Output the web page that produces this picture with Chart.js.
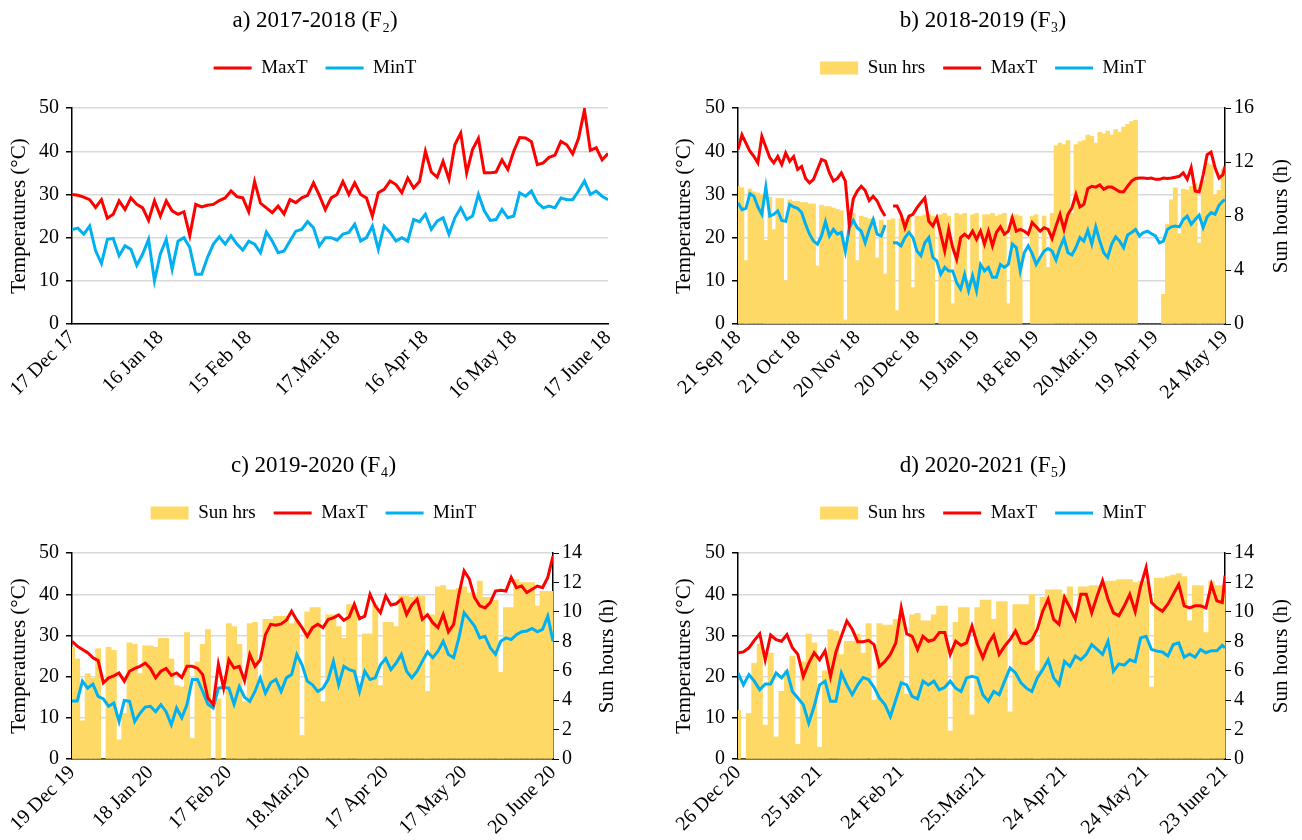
<!DOCTYPE html>
<html>

<head>
    <title>Temperature and sun hours</title>
    <script src="https://cdn.jsdelivr.net/npm/chart.js"></script>
    <style>
        body {
            margin: 0;
            background: #fff;
        }

        #wrap {
            position: relative;
            width: 1302px;
            height: 840px;
        }

        canvas {
            position: absolute;
        }

        #chartA { left: 0; top: 0; }
        #chartB { left: 651px; top: 0; }
        #chartC { left: 0; top: 445px; }
        #chartD { left: 651px; top: 445px; }
    </style>
</head>

<body>
    <div id="wrap">
        <canvas id="chartA" width="651" height="445"></canvas>
        <canvas id="chartB" width="651" height="445"></canvas>
        <canvas id="chartC" width="651" height="395"></canvas>
        <canvas id="chartD" width="651" height="395"></canvas>
    </div>

    <script>
        // values read every 2 days from the figure (day 0 = first tick)
        // a) 2017-2018
        const maxA = [
            30.0, 29.8, 29.4, 28.8, 27.0, 28.8, 24.5, 25.4, 28.5, 26.5,
            29.2, 27.7, 26.9, 24.0, 28.5, 25.0, 28.5, 26.2, 25.4, 26.0,
            20.5, 27.7, 27.1, 27.5, 27.7, 28.6, 29.2, 30.8, 29.5, 29.2,
            26.0, 33.0, 28.0, 26.9, 25.8, 27.3, 25.5, 28.8, 28.1, 29.2,
            29.8, 32.7, 29.8, 26.5, 29.2, 30.0, 33.0, 30.0, 32.7, 30.0,
            29.2, 25.0, 30.4, 31.2, 33.1, 32.3, 30.4, 33.8, 31.5, 33.0,
            40.0, 35.2, 34.0, 37.7, 33.5, 41.5, 44.2, 35.0, 40.4, 43.0,
            35.0, 35.0, 35.2, 38.0, 35.8, 40.0, 43.2, 43.1, 42.2, 36.9,
            37.3, 38.6, 39.1, 42.3, 41.5, 39.4, 43.0, 49.6, 40.2, 40.8,
            38.0, 39.5
        ];
        const minA = [
            21.9, 22.2, 20.8, 22.7, 17.0, 14.0, 19.6, 19.8, 15.8, 18.1,
            17.3, 13.6, 16.2, 19.6, 10.0, 16.2, 19.6, 12.7, 19.2, 20.0,
            17.7, 11.5, 11.5, 15.4, 18.5, 20.2, 18.5, 20.4, 18.5, 17.1,
            19.2, 18.5, 16.5, 21.3, 19.2, 16.5, 16.9, 19.2, 21.5, 21.9,
            23.7, 22.3, 18.1, 20.0, 20.0, 19.4, 20.8, 21.2, 23.1, 19.2,
            20.0, 22.7, 17.3, 22.7, 21.2, 19.2, 20.0, 19.2, 24.2, 23.7,
            25.4, 21.9, 23.8, 24.6, 20.8, 24.6, 26.9, 24.2, 25.0, 30.0,
            26.2, 24.0, 24.2, 26.5, 24.6, 25.0, 30.4, 29.6, 30.8, 28.1,
            26.9, 27.3, 26.9, 29.2, 28.8, 28.8, 30.8, 33.1, 30.0, 30.8,
            29.6, 28.8
        ];
        const tickDaysA = [0, 30, 60, 90, 120, 150, 182];
        const tickLabelsA = ['17 Dec 17', '16 Jan 18', '15 Feb 18', '17.Mar.18', '16 Apr 18', '16 May 18', '17 June 18'];

        // b) 2018-2019 (last value is day 245)
        const maxB = [
            40.4, 43.8, 41.9, 40.0, 38.8, 37.3, 43.5, 41.0, 38.5, 37.3,
            38.8, 36.9, 39.6, 37.7, 38.8, 35.8, 36.5, 33.7, 32.7, 33.5,
            35.8, 38.1, 37.7, 35.0, 33.1, 33.7, 35.0, 33.1, 23.0, 29.0,
            30.8, 31.9, 30.9, 28.6, 29.6, 28.5, 26.5, 25.0, null, 27.3,
            27.3, 25.4, 22.3, 25.0, 25.4, 26.9, 28.1, 29.2, 23.8, 22.7,
            24.6, 20.8, 16.9, 21.9, 17.7, 15.0, 20.0, 20.8, 20.0, 21.5,
            19.6, 21.5, 18.5, 21.5, 18.1, 21.2, 22.5, 20.8, 21.5, 24.6,
            21.5, 21.9, 21.5, 20.8, 23.5, 22.5, 21.5, 22.3, 21.9, 19.8,
            22.7, 25.4, 21.9, 25.4, 26.9, 30.0, 27.1, 27.7, 31.4, 31.9,
            31.7, 32.2, 31.2, 31.7, 31.7, 31.2, 30.6, 30.6, 31.9, 33.1,
            33.7, 33.8, 33.8, 33.7, 33.8, 33.5, 33.5, 33.8, 33.7, 33.8,
            34.0, 34.2, 35.0, 33.5, 36.2, 30.8, 30.6, 34.5, 39.2, 39.8,
            36.2, 33.8, 34.6, 36.5
        ];
        const minB = [
            28.1, 26.5, 26.8, 30.2, 29.6, 27.1, 25.4, 31.7, 25.0, 25.4,
            26.2, 24.0, 23.8, 27.7, 27.1, 26.8, 25.8, 23.1, 20.8, 19.2,
            18.5, 20.4, 23.7, 20.4, 21.9, 20.8, 21.2, 16.8, 22.3, 24.0,
            22.3, 21.5, 18.8, 21.9, 24.2, 20.8, 20.4, 22.9, null, 18.8,
            18.8, 18.1, 20.0, 21.2, 20.0, 16.9, 15.8, 18.8, 20.0, 15.4,
            14.6, 11.5, 13.1, 12.3, 12.3, 9.6, 8.1, 11.5, 7.7, 11.2,
            7.7, 13.8, 12.3, 13.1, 10.8, 10.8, 13.8, 13.1, 13.8, 18.5,
            17.7, 12.3, 16.5, 18.1, 16.3, 13.8, 15.4, 16.9, 17.5, 16.9,
            14.8, 17.7, 19.8, 16.5, 16.0, 17.7, 20.0, 19.2, 21.7, 18.5,
            22.5, 19.2, 16.5, 15.4, 18.5, 20.2, 19.2, 17.7, 20.6, 21.2,
            21.9, 20.4, 21.2, 21.5, 20.9, 20.4, 18.8, 19.2, 21.9, 22.5,
            22.7, 22.5, 24.2, 25.0, 23.1, 24.2, 25.2, 22.3, 24.8, 25.8,
            25.4, 27.5, 28.5, 28.8
        ];
        const sunB = [
            10.2, 10.1, 4.7, 10.0, 9.8, 9.7, 9.6, 6.2, 9.4, 7.0,
            9.3, 9.3, 3.2, 9.2, 9.1, 9.1, 9.0, 9.0, 8.9, 8.9,
            4.3, 8.8, 8.7, 8.7, 8.6, 8.5, 8.4, 0.3, 8.3, 8.2,
            4.7, 8.0, 7.9, 7.8, 7.8, 4.9, 7.7, 3.7, 7.7, 7.8,
            1.0, 7.8, 7.8, 7.9, 2.7, 8.0, 8.0, 8.1, 8.1, 8.0,
            0, 8.1, 8.2, 8.0, 1.5, 8.2, 8.1, 8.2, 3.2, 8.1,
            8.2, 4.0, 8.1, 8.1, 8.2, 8.0, 8.1, 8.2, 1.5, 8.0,
            8.1, 8.0, 0, 0, 8.0, 8.1, 4.8, 8.0, 4.2, 8.2,
            13.2, 13.4, 13.3, 13.6, 8.2, 13.3, 13.5, 13.6, 14.0, 13.9,
            13.4, 14.2, 14.1, 14.3, 14.0, 14.4, 14.2, 14.6, 14.8, 15.0,
            15.1, 0, 0, 0, 0, 0, 0, 2.2, 7.4, 9.2,
            10.1, 6.7, 10.0, 9.9, 10.2, 10.4, 6.0, 10.6, 11.9, 11.8,
            9.6, 9.9, 11.5
        ];
        const tickDaysB = [0, 30, 60, 90, 120, 150, 180, 210, 245];
        const tickLabelsB = ['21 Sep 18', '21 Oct 18', '20 Nov 18', '20 Dec 18', '19 Jan 19', '18 Feb 19', '20.Mar.19', '19 Apr 19', '24 May 19'];

        // c) 2019-2020
        const maxC = [
            28.6, 27.4, 26.6, 25.8, 24.6, 23.9, 18.5, 19.7, 20.2, 20.9,
            18.9, 21.3, 22.0, 22.5, 23.3, 22.0, 19.7, 21.3, 22.0, 20.3,
            20.9, 19.8, 22.5, 22.5, 22.0, 20.5, 14.8, 13.2, 23.0, 17.2,
            24.1, 22.1, 22.5, 19.0, 25.4, 22.5, 24.1, 30.2, 32.7, 32.5,
            32.8, 33.7, 35.9, 33.7, 31.9, 29.8, 31.9, 32.7, 31.9, 33.9,
            34.3, 35.0, 33.7, 34.5, 37.6, 34.1, 34.7, 40.0, 37.2, 35.5,
            39.6, 37.4, 37.7, 38.8, 35.1, 37.4, 38.8, 33.9, 35.0, 33.1,
            31.9, 35.1, 30.9, 32.7, 40.0, 45.7, 43.7, 39.2, 37.2, 36.7,
            38.0, 40.8, 41.0, 40.8, 44.1, 41.6, 42.0, 40.4, 41.2, 42.0,
            41.6, 44.1, 49.3
        ];
        const minC = [
            14.1, 14.1, 18.9, 17.2, 18.2, 15.2, 14.6, 12.8, 13.6, 9.1,
            14.2, 14.0, 9.1, 11.1, 12.6, 12.8, 11.5, 13.2, 11.5, 8.3,
            12.4, 10.0, 13.2, 19.3, 19.3, 16.4, 13.3, 12.4, 17.2, 17.4,
            17.2, 13.3, 17.6, 15.0, 14.0, 16.4, 19.7, 16.0, 18.5, 19.3,
            16.4, 19.7, 20.5, 25.4, 22.9, 18.9, 18.0, 16.4, 17.2, 19.3,
            23.7, 18.0, 22.5, 21.7, 21.3, 16.4, 21.3, 19.3, 19.7, 22.9,
            24.4, 21.7, 23.3, 25.4, 21.3, 19.7, 21.3, 23.7, 26.0, 24.6,
            26.2, 28.6, 25.4, 24.6, 29.4, 35.5, 33.9, 32.3, 29.4, 29.8,
            27.0, 25.4, 28.6, 29.4, 29.0, 30.2, 30.9, 31.1, 31.7, 30.9,
            31.5, 34.7, 28.6
        ];
        const sunC = [
            7.6, 6.8, 2.6, 5.8, 5.5, 7.5, 0, 7.6, 7.4, 1.3,
            3.1, 7.9, 7.8, 5.8, 7.7, 7.7, 7.6, 8.2, 8.2, 6.8,
            5.0, 4.9, 8.6, 1.4, 6.6, 7.8, 8.8, 0, 4.1, 0,
            9.2, 9.0, 7.8, 3.9, 9.2, 9.3, 5.0, 9.5, 9.5, 9.7,
            9.7, 9.7, 9.2, 9.4, 1.6, 10.0, 10.3, 10.3, 3.9, 9.8,
            9.8, 9.0, 8.2, 10.5, 10.4, 5.0, 8.5, 8.5, 10.5, 5.0,
            9.3, 9.3, 9.0, 11.1, 11.1, 11.0, 11.1, 11.1, 4.6, 9.8,
            11.7, 11.8, 11.5, 11.5, 11.6, 11.7, 11.3, 11.2, 12.1, 11.0,
            11.0, 10.8, 5.9, 10.3, 10.3, 12.2, 12.0, 12.0, 12.0, 10.4,
            11.4, 11.4, 11.4
        ];
        const tickDaysC = [0, 30, 60, 90, 120, 150, 184];
        const tickLabelsC = ['19 Dec 19', '18 Jan 20', '17 Feb 20', '18.Mar.20', '17 Apr 20', '17 May 20', '20 June 20'];

        // d) 2020-2021 (last value is day 179)
        const maxD = [
            25.8, 26.0, 27.0, 28.8, 30.4, 24.1, 30.1, 29.0, 28.6, 30.2,
            27.0, 25.4, 20.0, 23.3, 25.8, 24.1, 26.3, 20.0, 26.0, 29.8,
            33.5, 31.5, 28.5, 28.5, 28.8, 27.8, 22.5, 23.7, 25.4, 28.2,
            36.7, 30.4, 29.8, 26.6, 29.8, 28.6, 29.0, 30.7, 30.7, 25.4,
            28.6, 27.6, 28.2, 32.3, 27.8, 24.6, 28.0, 30.1, 25.4, 27.4,
            29.0, 31.1, 28.2, 28.0, 29.0, 31.5, 35.9, 38.8, 33.9, 32.7,
            39.3, 36.7, 33.9, 40.0, 40.0, 35.5, 39.6, 43.3, 38.8, 35.5,
            34.8, 37.2, 40.0, 35.8, 42.0, 46.5, 38.0, 36.7, 35.9, 37.6,
            40.0, 42.4, 37.2, 36.7, 37.2, 37.2, 36.7, 42.4, 38.4, 38.0,
            44.5
        ];
        const minD = [
            20.9, 18.0, 20.5, 18.9, 16.8, 18.2, 18.2, 20.9, 19.7, 21.3,
            16.4, 14.8, 13.2, 8.7, 12.8, 18.0, 18.9, 14.0, 14.0, 20.9,
            18.0, 15.6, 18.0, 19.8, 19.3, 17.4, 14.8, 13.2, 10.3, 14.4,
            18.5, 18.0, 15.2, 14.6, 18.9, 18.0, 18.9, 16.8, 17.4, 18.9,
            17.2, 16.4, 19.7, 20.1, 19.7, 15.6, 14.0, 16.4, 15.6, 18.9,
            22.1, 20.9, 18.5, 17.2, 16.4, 19.7, 21.7, 24.1, 19.7, 18.0,
            23.7, 22.5, 25.0, 24.1, 25.4, 27.8, 26.6, 25.4, 28.6, 21.3,
            23.1, 22.8, 24.1, 23.6, 29.4, 29.8, 26.6, 26.2, 26.0, 25.0,
            27.8, 28.2, 24.7, 25.5, 24.7, 26.6, 25.8, 26.3, 26.3, 27.6,
            27.0
        ];
        const sunD = [
            3.3, 0, 3.1, 6.5, 7.8, 2.3, 7.2, 1.5, 4.6, 6.0,
            7.0, 1.0, 6.6, 8.5, 7.9, 0.8, 6.0, 8.8, 8.7, 7.1,
            8.0, 8.0, 8.5, 7.2, 9.2, 4.0, 9.2, 9.1, 9.1, 9.5,
            9.8, 4.4, 9.8, 9.9, 9.4, 9.4, 9.8, 10.4, 10.4, 1.9,
            9.3, 10.3, 10.3, 3.0, 10.3, 10.8, 10.8, 9.5, 10.7, 10.7,
            3.2, 10.5, 10.5, 10.5, 11.2, 6.0, 11.0, 11.5, 11.5, 11.5,
            11.2, 11.7, 9.3, 11.7, 11.7, 11.8, 11.8, 11.9, 12.1, 12.1,
            12.2, 12.2, 12.2, 12.0, 12.1, 12.1, 4.9, 12.3, 12.3, 12.4,
            12.5, 12.6, 12.4, 9.4, 11.8, 11.8, 8.6, 12.1, 11.8, 11.8
        ];
        const tickDaysD = [0, 30, 60, 90, 120, 150, 179];
        const tickLabelsD = ['26 Dec 20', '25 Jan 21', '24 Feb 21', '25.Mar.21', '24 Apr 21', '24 May 21', '23 June 21'];

        const RED = '#FF0000';
        const BLUE = '#00B0F0';
        const SUN = '#FFD966';
        const GRID = '#D9D9D9';

        Chart.defaults.font.family = "'Liberation Serif', 'Times New Roman', serif";
        Chart.defaults.color = '#000';

        // secondary axis title, written bottom-to-top like the left one
        const rightTitle = {
            id: 'rightTitle',
            afterDraw(chart, args, opts) {
                if (!opts.text) return;
                const s = chart.scales.y1;
                const a = chart.chartArea;
                const ctx = chart.ctx;
                ctx.save();
                ctx.translate(s.right - 15.6, (a.top + a.bottom) / 2);
                ctx.rotate(-Math.PI / 2);
                ctx.font = "21px 'Liberation Serif', 'Times New Roman', serif";
                ctx.fillStyle = '#000';
                ctx.textAlign = 'center';
                ctx.textBaseline = 'middle';
                ctx.fillText(opts.text, 0, 0);
                ctx.restore();
            }
        };

        function makePanel(id, p) {
            const lastDay = p.tickDays[p.tickDays.length - 1];
            const days = p.max.map((_, i) => Math.min(i * 2, lastDay));
            const datasets = [];
            if (p.sun) {
                datasets.push({
                    type: 'bar',
                    label: 'Sun hrs',
                    data: p.sun.map((v, i) => ({ x: i * 2, y: v })),
                    yAxisID: 'y1',
                    backgroundColor: SUN,
                    borderWidth: 0,
                    barPercentage: 1,
                    categoryPercentage: 1,
                    pointStyle: 'rect',
                    order: 3
                });
            }
            datasets.push({
                type: 'line',
                label: 'MaxT',
                data: p.max.map((v, i) => ({ x: days[i], y: v })),
                yAxisID: 'y',
                borderColor: RED,
                backgroundColor: RED,
                borderWidth: 3,
                pointRadius: 0,
                pointStyle: 'line',
                tension: 0,
                order: 1
            });
            datasets.push({
                type: 'line',
                label: 'MinT',
                data: p.min.map((v, i) => ({ x: days[i], y: v })),
                yAxisID: 'y',
                borderColor: BLUE,
                backgroundColor: BLUE,
                borderWidth: 3,
                pointRadius: 0,
                pointStyle: 'line',
                tension: 0,
                order: 2
            });

            let y1;
            if (p.sun) {
                y1 = {
                    position: 'right',
                    min: 0,
                    max: p.sunMax,
                    ticks: { stepSize: 2, padding: 3, font: { size: 20 } },
                    grid: { drawOnChartArea: false, tickColor: '#000', tickLength: 6 },
                    border: { color: '#000', width: 1.5 },
                    afterFit: s => { s.width = p.y1Width; }
                };
            } else {
                // empty box on the right so the title sits where it should
                y1 = {
                    position: 'right',
                    ticks: { display: false },
                    grid: { display: false },
                    border: { display: false },
                    afterFit: s => { s.width = p.y1Width; }
                };
            }

            return new Chart(document.getElementById(id), {
                type: 'line',
                data: { datasets: datasets },
                plugins: [rightTitle],
                options: {
                    responsive: false,
                    animation: false,
                    layout: { padding: { left: p.padLeft, right: p.padRight, top: 0, bottom: 0 } },
                    plugins: {
                        title: {
                            display: true,
                            text: p.title,
                            font: { size: 23, weight: 'normal' },
                            padding: { top: 7, bottom: 6 }
                        },
                        legend: {
                            labels: {
                                usePointStyle: true,
                                pointStyleWidth: 38,
                                boxHeight: 13,
                                padding: 18,
                                font: { size: 19 },
                                sort: (a, b) => a.datasetIndex - b.datasetIndex
                            }
                        },
                        // blank line between legend and plot
                        subtitle: {
                            display: true,
                            text: '',
                            weight: 500,
                            font: { size: 10 },
                            padding: { top: 0, bottom: 8.5 }
                        },
                        rightTitle: { text: p.sun ? 'Sun hours (h)' : '' },
                        tooltip: { enabled: false }
                    },
                    scales: {
                        x: {
                            type: 'linear',
                            min: 0,
                            max: lastDay,
                            offset: false,
                            afterBuildTicks: s => { s.ticks = p.tickDays.map(v => ({ value: v })); },
                            afterFit: s => { s.height = p.xHeight; },
                            ticks: {
                                autoSkip: false,
                                minRotation: 45,
                                maxRotation: 45,
                                padding: 2,
                                font: { size: 20 },
                                callback: (v, i) => p.tickLabels[i]
                            },
                            grid: { display: true, drawOnChartArea: false, drawTicks: false, offset: false },
                            border: { color: '#000', width: 1.5 }
                        },
                        y: {
                            min: 0,
                            max: 50,
                            ticks: { stepSize: 10, padding: 7, font: { size: 20 } },
                            grid: { color: GRID, lineWidth: 1.5, tickColor: '#000', tickLength: 6 },
                            border: { color: '#000', width: 1.5 },
                            title: { display: true, text: 'Temperatures (°C)', font: { size: 21 }, padding: { top: 3, bottom: 3 } },
                            afterFit: s => { s.width = p.yWidth; }
                        },
                        y1: y1
                    }
                }
            });
        }

        makePanel('chartA', {
            title: 'a) 2017-2018 (F₂)', max: maxA, min: minA,
            tickDays: tickDaysA, tickLabels: tickLabelsA,
            padLeft: 4, yWidth: 68, padRight: 25, y1Width: 18, xHeight: 121
        });
        makePanel('chartB', {
            title: 'b) 2018-2019 (F₃)', max: maxB, min: minB, sun: sunB, sunMax: 16,
            tickDays: tickDaysB, tickLabels: tickLabelsB,
            padLeft: 18, yWidth: 69, padRight: 5, y1Width: 72, xHeight: 121
        });
        makePanel('chartC', {
            title: 'c) 2019-2020 (F₄)', max: maxC, min: minC, sun: sunC, sunMax: 14,
            tickDays: tickDaysC, tickLabels: tickLabelsC,
            padLeft: 4, yWidth: 68, padRight: 28, y1Width: 70, xHeight: 81
        });
        makePanel('chartD', {
            title: 'd) 2020-2021 (F₅)', max: maxD, min: minD, sun: sunD, sunMax: 14,
            tickDays: tickDaysD, tickLabels: tickLabelsD,
            padLeft: 18, yWidth: 69, padRight: 5, y1Width: 72, xHeight: 81
        });
    </script>
</body>

</html>
